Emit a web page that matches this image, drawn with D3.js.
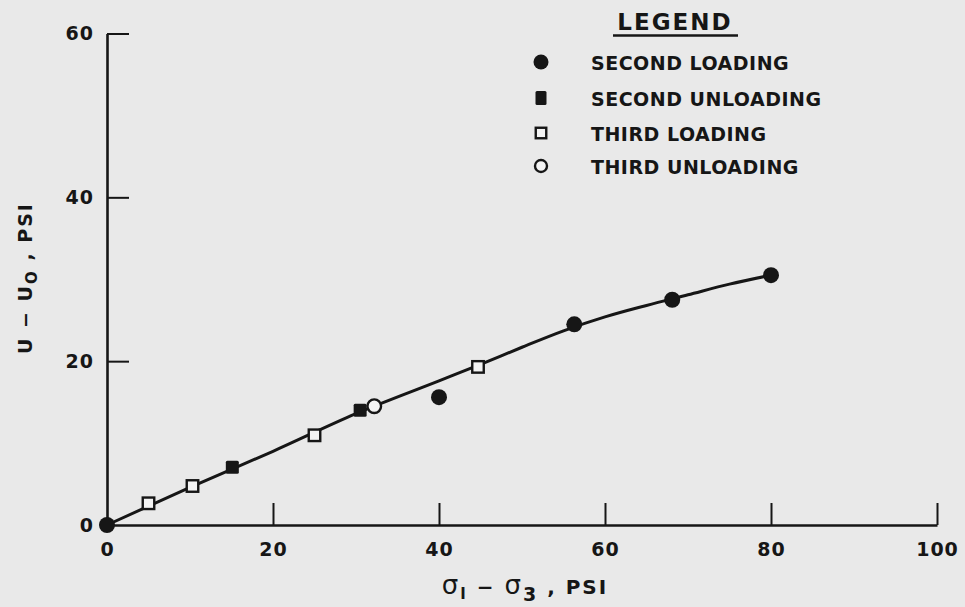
<!DOCTYPE html>
<html>
<head>
<meta charset="utf-8">
<script src="https://cdn.jsdelivr.net/npm/d3@7"></script>
<style>
  html, body { margin: 0; padding: 0; background: #e9e9e9; }
  svg { display: block; }
  text { font-family: "DejaVu Sans", Verdana, sans-serif; font-weight: bold; fill: #161616; }
</style>
</head>
<body>
<div id="chart"></div>
<script>
// Data (x = sigma1 - sigma3, y = U - U0, both PSI)
const secondLoading   = [[0, 0], [40, 15.6], [56.3, 24.5], [68.1, 27.5], [80, 30.5]];
const secondUnloading = [[15.1, 7.05], [30.5, 14.0]];
const thirdLoading    = [[5, 2.65], [10.3, 4.76], [25, 10.95], [44.7, 19.3]];
const thirdUnloading  = [[32.2, 14.5]];
// hand-drawn fit curve through the points
const fitCurve = [[0, 0], [10, 4.6], [20, 9.0], [30, 13.6], [40, 17.6], [45, 19.6], [50, 21.7],
                  [55, 23.7], [60, 25.4], [65, 26.8], [70, 28.1], [75, 29.4], [80, 30.5]];

const xTicks = [0, 20, 40, 60, 80, 100];
const yTicks = [0, 20, 40, 60];
const legendLabels = ['SECOND LOADING', 'SECOND UNLOADING', 'THIRD LOADING', 'THIRD UNLOADING'];

function renderChart(container) {
  const width = 965, height = 607;
  const ink = '#161616';

  const svg = d3.select(container)
    .append('svg')
      .attr('width', width)
      .attr('height', height);

  svg.append('rect')
    .attr('width', width)
    .attr('height', height)
    .attr('fill', '#e9e9e9');

  // Scales
  const x = d3.scaleLinear().domain([0, 100]).range([107, 937]);
  const y = d3.scaleLinear().domain([0, 60]).range([525, 33.5]);

  // Axes (ticks point inward)
  const xAxis = svg.append('g')
    .attr('transform', `translate(0,${y(0)})`)
    .call(d3.axisBottom(x)
      .tickValues(xTicks)
      .tickFormat(d3.format('d'))
      .tickSizeInner(-22)
      .tickSizeOuter(0)
      .tickPadding(18));

  const yAxis = svg.append('g')
    .attr('transform', `translate(${x(0)},0)`)
    .call(d3.axisLeft(y)
      .tickValues(yTicks)
      .tickFormat(d3.format('d'))
      .tickSizeInner(-22)
      .tickSizeOuter(0)
      .tickPadding(13));

  [xAxis, yAxis].forEach(a => {
    a.attr('font-size', null).attr('font-family', null);
    a.select('.domain').attr('stroke', ink).attr('stroke-width', 2.6);
    a.selectAll('.tick line').attr('stroke', ink).attr('stroke-width', 2);
    a.selectAll('.tick text')
      .attr('fill', ink)
      .style('font-size', '19px')
      .style('letter-spacing', '1px');
  });
  xAxis.selectAll('.tick').filter(d => d === 0).select('line').remove();
  yAxis.selectAll('.tick').filter(d => d === 0).select('line').remove();

  // Fit curve
  const line = d3.line()
    .x(d => x(d[0]))
    .y(d => y(d[1]))
    .curve(d3.curveMonotoneX);

  svg.append('path')
    .datum(fitCurve)
    .attr('fill', 'none')
    .attr('stroke', ink)
    .attr('stroke-width', 3)
    .attr('d', line);

  // Marker helpers
  function filledCircle(g, px, py, r) {
    g.append('circle').attr('cx', px).attr('cy', py).attr('r', r).attr('fill', ink);
  }
  function filledSquare(g, px, py, w, h) {
    g.append('rect').attr('x', px - w / 2).attr('y', py - h / 2)
      .attr('width', w).attr('height', h).attr('rx', 1.5).attr('fill', ink);
  }
  function openSquare(g, px, py, s) {
    g.append('rect').attr('x', px - s / 2).attr('y', py - s / 2)
      .attr('width', s).attr('height', s)
      .attr('fill', '#f4f4f4').attr('stroke', ink).attr('stroke-width', 2.4);
  }
  function openCircle(g, px, py, r) {
    g.append('circle').attr('cx', px).attr('cy', py).attr('r', r)
      .attr('fill', '#f4f4f4').attr('stroke', ink).attr('stroke-width', 2.4);
  }

  const marks = svg.append('g');
  secondLoading.forEach(d => filledCircle(marks, x(d[0]), y(d[1]), 8));
  secondUnloading.forEach(d => filledSquare(marks, x(d[0]), y(d[1]), 13, 13));
  thirdLoading.forEach(d => openSquare(marks, x(d[0]), y(d[1]), 11.5));
  thirdUnloading.forEach(d => openCircle(marks, x(d[0]), y(d[1]), 6.8));

  // Axis titles
  const xTitle = svg.append('text')
    .attr('x', 525)
    .attr('y', 594)
    .attr('text-anchor', 'middle')
    .style('font-size', '20px')
    .style('letter-spacing', '2px');
  xTitle.append('tspan').text('σ').style('font-weight', 'normal').style('font-size', '26px');
  xTitle.append('tspan').text('l').attr('dy', 5).style('font-size', '16px');
  xTitle.append('tspan').text(' − ').attr('dy', -5);
  xTitle.append('tspan').text('σ').style('font-weight', 'normal').style('font-size', '26px');
  xTitle.append('tspan').text('3').attr('dy', 7).style('font-size', '19px');
  xTitle.append('tspan').text(' ,   PSI').attr('dy', -7);

  const yTitle = svg.append('text')
    .attr('transform', 'translate(32,278) rotate(-90)')
    .attr('text-anchor', 'middle')
    .style('font-size', '19px')
    .style('letter-spacing', '2px');
  yTitle.append('tspan').text('U − U');
  yTitle.append('tspan').text('O').attr('dy', 5).style('font-size', '15px');
  yTitle.append('tspan').text(' , PSI').attr('dy', -5);

  // Legend
  const legend = svg.append('g');
  legend.append('text')
    .attr('x', 675)
    .attr('y', 30)
    .attr('text-anchor', 'middle')
    .style('font-size', '23px')
    .style('letter-spacing', '2px')
    .text('LEGEND');
  legend.append('line')
    .attr('x1', 613).attr('x2', 738)
    .attr('y1', 35.5).attr('y2', 35.5)
    .attr('stroke', ink).attr('stroke-width', 2.6);

  const rowY = [62, 98, 133, 166];
  const symX = 541;
  filledCircle(legend, symX, rowY[0], 7.5);
  filledSquare(legend, symX, rowY[1], 11, 14);
  openSquare(legend, symX, rowY[2], 10.5);
  openCircle(legend, symX, rowY[3], 6);

  legend.selectAll('text.item')
    .data(legendLabels)
    .join('text')
      .attr('class', 'item')
      .attr('x', 591)
      .attr('y', (d, i) => rowY[i] + 7.5)
      .style('font-size', '19px')
      .style('letter-spacing', '0.5px')
      .text(d => d);
}

renderChart('#chart');
</script>
</body>
</html>
